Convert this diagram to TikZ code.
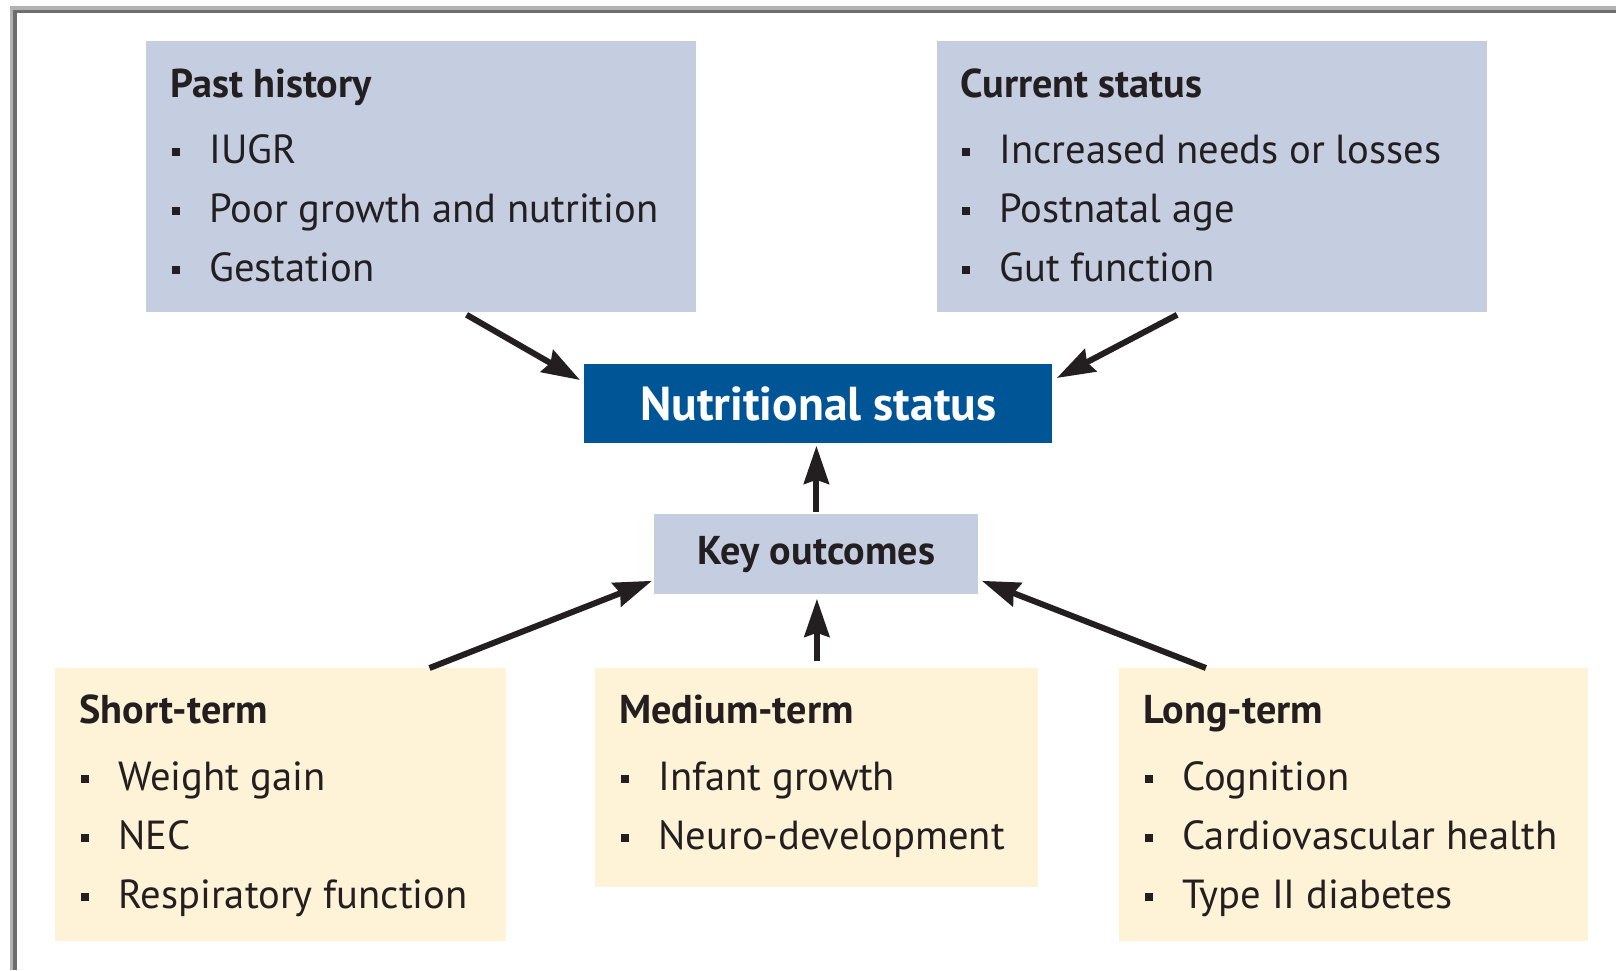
\documentclass[tikz,border=0pt]{standalone}
\usepackage{fontspec}
\setmainfont{PT Sans}
\usetikzlibrary{calc,arrows.meta}
\definecolor{ink}{HTML}{231F20}
\definecolor{paleblue}{HTML}{C5CDE0}
\definecolor{paleyellow}{HTML}{FEF2D7}
\definecolor{deepblue}{HTML}{005596}
\definecolor{framedark}{HTML}{6D6D6D}
\definecolor{framelight}{HTML}{B2B2B2}
% square list bullet followed by the indent of the entry text
\newcommand\blt{\makebox[18.5pt][l]{\rule[3.6pt]{4pt}{4pt}}}

\begin{document}
\begin{tikzpicture}[x=0.5pt,y=-0.5pt,
  panel/.style={rectangle, inner sep=0pt, anchor=north west},
  causebox/.style={panel, fill=paleblue},
  outbox/.style={panel, fill=paleyellow},
  heading/.style={anchor=base west, inner sep=0pt, text=ink,
    font=\fontsize{20.1}{24}\selectfont\bfseries},
  entry/.style={anchor=base west, inner sep=0pt, text=ink,
    font=\fontsize{20.3}{24}\selectfont},
  link/.style={draw=ink, line width=3pt,
    -{Stealth[length=19pt,width=12.5pt,inset=2pt]}},
]
\useasboundingbox (0,0) rectangle (1616,970);

% page frame (top and left rules)
\fill[framelight] (10,6) rectangle (1616,10);
\fill[framelight] (10,6) rectangle (13,970);
\fill[framedark] (13,10) rectangle (1616,13);
\fill[framedark] (13,10) rectangle (16.5,970);

% factor panels
\node[causebox, minimum width=275pt, minimum height=135.5pt] (ph) at (146,41) {};
\node[causebox, minimum width=275pt, minimum height=135.5pt] (cs) at (937,41) {};

% central boxes
\node[panel, fill=deepblue, minimum width=234pt, minimum height=39.5pt,
  text=white, font=\fontsize{23.8}{28}\selectfont\bfseries] (ns) at (584,364) {Nutritional status};
\node[causebox, minimum width=162pt, minimum height=40pt, text=ink,
  font=\fontsize{20.1}{24}\selectfont\bfseries] (ko) at (654,514) {Key outcomes};

% outcome panels
\node[outbox, minimum width=225.5pt, minimum height=136.5pt] (st) at (55,668) {};
\node[outbox, minimum width=221.5pt, minimum height=109.5pt] (mt) at (595,668) {};
\node[outbox, minimum width=234.5pt, minimum height=136.5pt] (lt) at (1119,668) {};

% panel texts
\node[heading] (ph-h) at (170,97) {Past history};
\node[entry] (ph-1) at (172,163) {\blt IUGR};
\node[entry] (ph-2) at (172,222) {\blt Poor growth and nutrition};
\node[entry] (ph-3) at (172,281) {\blt Gestation};

\node[heading] (cs-h) at (960,97) {Current status};
\node[entry] (cs-1) at (962,163) {\blt Increased needs or losses};
\node[entry] (cs-2) at (962,222) {\blt Postnatal age};
\node[entry] (cs-3) at (962,281) {\blt Gut function};

\node[heading] (st-h) at (79,723) {Short-term};
\node[entry] (st-1) at (81,790) {\blt Weight gain};
\node[entry] (st-2) at (81,849) {\blt NEC};
\node[entry] (st-3) at (81,908) {\blt Respiratory function};

\node[heading] (mt-h) at (619,723) {Medium-term};
\node[entry] (mt-1) at (621,790) {\blt Infant growth};
\node[entry] (mt-2) at (621,849) {\blt Neuro-development};

\node[heading] (lt-h) at (1143,723) {Long-term};
\node[entry] (lt-1) at (1145,790) {\blt Cognition};
\node[entry] (lt-2) at (1145,849) {\blt Cardiovascular health};
\node[entry] (lt-3) at (1145,908) {\blt Type II diabetes};

% connectors
\draw[link] ([yshift=-1pt]$(ph.south west)!0.582!(ph.south east)$) -- ([xshift=-2pt,yshift=-8pt]ns.north west);
\draw[link] ([yshift=-1pt]$(cs.south west)!0.436!(cs.south east)$) -- ([xshift=2pt,yshift=-7pt]ns.north east);
\draw[link] ([yshift=1pt]ko.north) -- ([yshift=-1pt]ko.north |- ns.south);
\draw[link] ($(st.north west)!0.829!(st.north east)$) -- ([xshift=-1pt,yshift=7pt]ko.south west);
\draw[link] ([yshift=3.5pt]mt.north) -- ([yshift=-2pt]mt.north |- ko.south);
\draw[link] ($(lt.north west)!0.185!(lt.north east)$) -- ([xshift=1.5pt,yshift=7pt]ko.south east);
\end{tikzpicture}
\end{document}
